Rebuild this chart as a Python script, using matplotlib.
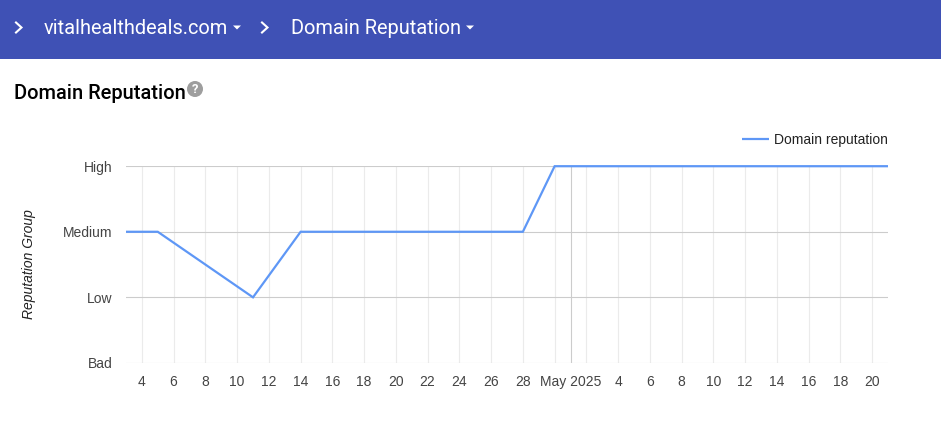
from datetime import date

from matplotlib import pyplot as plt
from matplotlib import dates as mdates
from matplotlib.patches import Circle, Polygon, Rectangle

# data
dates = [date(2025, 4, 3), date(2025, 4, 5), date(2025, 4, 11), date(2025, 4, 14),
         date(2025, 4, 28), date(2025, 4, 30), date(2025, 5, 21)]
reputation = [2, 2, 1, 2, 2, 3, 3]
levels = ["Bad", "Low", "Medium", "High"]

april_days = [4, 6, 8, 10, 12, 14, 16, 18, 20, 22, 24, 26, 28, 30]
may_days = [2, 4, 6, 8, 10, 12, 14, 16, 18, 20]
x_start = date(2025, 4, 3)
x_end = date(2025, 5, 21)
month_start = date(2025, 5, 1)

W, H = 941, 434
BLUE = "#3f51b5"
LINE = "#5e97f6"
HEAVY = "#cccccc"
LIGHT = "#ebebeb"
TEXT = "#444444"
DARK = "#222222"
CHART_FONT = 10
plt.rcParams["font.family"] = ["Liberation Sans", "DejaVu Sans"]

fig = plt.figure(figsize=(W / 100, H / 100), dpi=100)

# page furniture, in pixel coordinates
page = fig.add_axes([0, 0, 1, 1])
page.set_xlim(0, W)
page.set_ylim(H, 0)
page.axis("off")
page.add_patch(Rectangle((0, 0), W, 59, color=BLUE, lw=0))


def chevron(x, y):
    page.plot([x - 3, x + 2.5, x - 3], [y - 5, y, y + 5], color="white", lw=1.5,
              solid_joinstyle="miter")


def caret(x, y):
    page.add_patch(Polygon([(x - 4, y - 2), (x + 4, y - 2), (x, y + 2)], color="white", lw=0))


chevron(19, 27.5)
page.text(44, 28.5, "vitalhealthdeals.com", color="white", fontsize=14.45,
          family="Roboto", va="center")
caret(237, 27.5)
chevron(265, 27.5)
page.text(291, 28.5, "Domain Reputation", color="white", fontsize=14.45,
          family="Roboto", va="center")
caret(470, 27.5)

page.text(14, 93.5, "Domain Reputation", color="black", fontsize=14.4,
          family="Roboto", weight="medium", va="center")
page.add_patch(Circle((195, 89), 8, color="#9e9e9e", lw=0))
page.text(195, 89.5, "?", color="white", fontsize=9.5, family="Roboto", weight="bold",
          ha="center", va="center")

# chart
left, right, top, bottom = 126, 888, 166.2, 362.9
ax = fig.add_axes([left / W, 1 - bottom / H, (right - left) / W, (bottom - top) / H])
ax.patch.set_alpha(0)
for spine in ax.spines.values():
    spine.set_visible(False)

x_values = [mdates.date2num(d) for d in dates]
ax.set_xlim(mdates.date2num(x_start), mdates.date2num(x_end))
ax.set_ylim(0, len(levels) - 1)

ticks = [mdates.date2num(date(2025, 4, d)) for d in april_days]
ticks += [mdates.date2num(date(2025, 5, d)) for d in may_days]
# 30 Apr and 2 May keep their gridlines but the month label takes their room
labels = [str(d) for d in april_days[:-1]] + [""] + [""] + [str(d) for d in may_days[1:]]
ax.set_xticks(ticks, labels)
ax.set_yticks(range(len(levels)), levels)
ax.tick_params(axis="both", length=0, labelsize=CHART_FONT, labelcolor=TEXT)
ax.tick_params(axis="x", pad=9)
ax.tick_params(axis="y", pad=9.7)

ax.grid(axis="x", color=LIGHT, lw=0.8, zorder=1)
ax.grid(axis="y", color=HEAVY, lw=0.8, zorder=1)
ax.set_axisbelow(True)
ax.axvline(mdates.date2num(month_start), color=HEAVY, lw=0.8, zorder=1.5)
ax.annotate("May 2025", (mdates.date2num(month_start), 0),
            xycoords=ax.get_xaxis_transform(), xytext=(0, -9), textcoords="offset points",
            fontsize=CHART_FONT, color=TEXT, ha="center", va="top")

ax.plot(x_values, reputation, color=LINE, lw=1.6, clip_on=False, zorder=3,
        label="Domain reputation", solid_joinstyle="miter", solid_capstyle="butt")

ax.set_ylabel("Reputation Group", fontsize=CHART_FONT, style="italic", color=DARK)
ax.yaxis.set_label_coords((36 - left) / (right - left), 0.5)

ax.legend(loc="center right", bbox_to_anchor=(1.0, 1 + 26.3 / (bottom - top)), frameon=False,
          fontsize=CHART_FONT, labelcolor=DARK, handlelength=1.95, handletextpad=0.36,
          borderpad=0, borderaxespad=0)

fig.savefig("out.png", dpi=100)
